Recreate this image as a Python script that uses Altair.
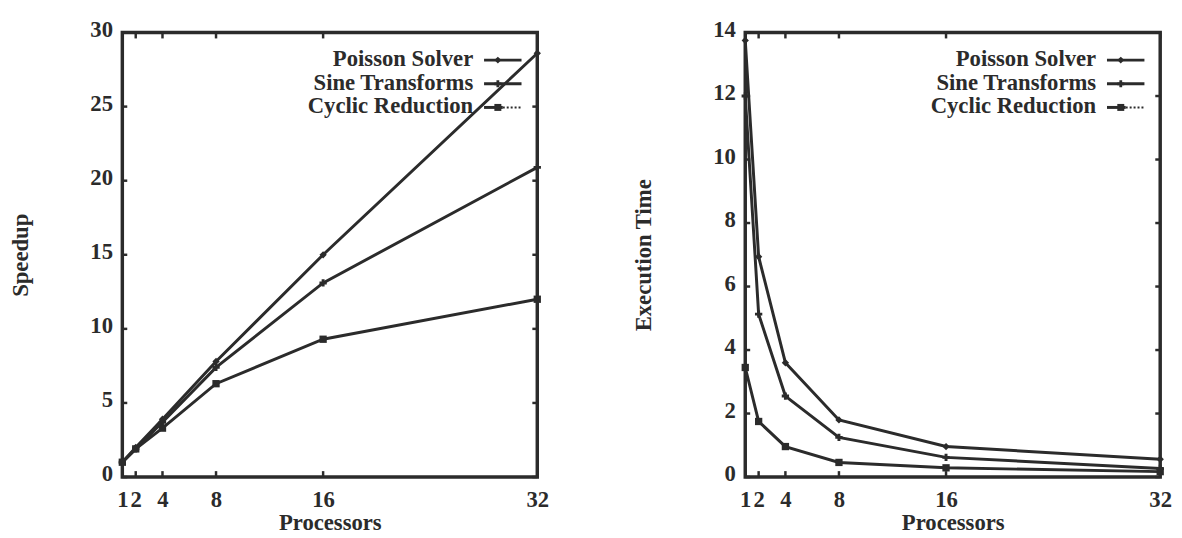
import altair as alt
import pandas as pd

processors = [1, 2, 4, 8, 16, 32]
series = ["Poisson Solver", "Sine Transforms", "Cyclic Reduction"]

speedup_poisson = [1.0, 2.0, 3.9, 7.8, 15.0, 28.6]
speedup_sine = [1.0, 1.9, 3.7, 7.4, 13.1, 20.9]
speedup_cyclic = [1.0, 1.9, 3.3, 6.3, 9.3, 12.0]

time_poisson = [13.75, 6.94, 3.6, 1.8, 0.96, 0.56]
time_sine = [12.0, 5.13, 2.55, 1.25, 0.62, 0.27]
time_cyclic = [3.45, 1.75, 0.96, 0.46, 0.29, 0.17]

speedup_ticks = [0, 5, 10, 15, 20, 25, 30]
time_ticks = [0, 2, 4, 6, 8, 10, 12, 14]

FONT = "Liberation Serif"
FS = 23
INK = "#2b2b2b"
W, H = 421, 451
shapes = ["diamond", "cross", "square"]


def panel(vals, ytitle, yticks, ymax, title_pad):
    rows = []
    for s, v in zip(series, vals):
        for p, y in zip(processors, v):
            rows.append({"processors": p, "value": y, "series": s})
    df = pd.DataFrame(rows)

    xscale = alt.Scale(domain=[1, 32], nice=False, zero=False)
    yscale = alt.Scale(domain=[0, ymax], nice=False, zero=True)
    x = alt.X("processors:Q", scale=xscale,
              axis=alt.Axis(values=processors, title="Processors",
                            labelOverlap=False, labelFlush=False,
                            labelPadding=12, titlePadding=0))
    y = alt.Y("value:Q", scale=yscale,
              axis=alt.Axis(values=yticks, title=ytitle, labelPadding=10,
                            labelOffset=-3, titlePadding=title_pad,
                            labelOverlap=False, labelFlush=False))

    lines = alt.Chart(df).mark_line(color=INK, strokeWidth=3).encode(
        x=x, y=y, detail="series:N")
    pts = alt.Chart(df).mark_point(filled=True, color=INK, opacity=1, size=55).encode(
        x=x, y=y,
        shape=alt.Shape("series:N", scale=alt.Scale(domain=series, range=shapes),
                        legend=None))

    # inward tick marks on all four sides
    xt = pd.DataFrame({"processors": processors})
    yt = pd.DataFrame({"value": yticks})
    tb = alt.Chart(xt).mark_rule(color=INK, strokeWidth=2.5).encode(
        x=x, y=alt.value(H), y2=alt.value(H - 6))
    tt = alt.Chart(xt).mark_rule(color=INK, strokeWidth=2.5).encode(
        x=x, y=alt.value(0), y2=alt.value(6))
    tl = alt.Chart(yt).mark_rule(color=INK, strokeWidth=2.5).encode(
        y=y, x=alt.value(0), x2=alt.value(5))
    tr = alt.Chart(yt).mark_rule(color=INK, strokeWidth=2.5).encode(
        y=y, x=alt.value(W), x2=alt.value(W - 5))

    layers = [lines, pts, tb, tt, tl, tr]

    # manual legend: label on the left, sample on the right
    row_y = [27, 51, 75]
    for i, s in enumerate(series):
        one = alt.Data(values=[{"label": s}])
        layers.append(alt.Chart(one).mark_text(
            align="right", baseline="middle", font=FONT, fontSize=FS,
            fontWeight="bold", color=INK).encode(
            x=alt.value(356), y=alt.value(row_y[i]), text="label:N"))
        if i < 2:
            layers.append(alt.Chart(one).mark_rule(color=INK, strokeWidth=3).encode(
                x=alt.value(367), x2=alt.value(405), y=alt.value(row_y[i] + 1)))
        else:
            layers.append(alt.Chart(one).mark_rule(color=INK, strokeWidth=3).encode(
                x=alt.value(367), x2=alt.value(386), y=alt.value(row_y[i] + 1)))
            layers.append(alt.Chart(one).mark_rule(
                color=INK, strokeWidth=2, strokeDash=[2, 2]).encode(
                x=alt.value(386), x2=alt.value(405), y=alt.value(row_y[i] + 1)))
        layers.append(alt.Chart(one).mark_point(
            shape=shapes[i], filled=True, color=INK, opacity=1, size=50).encode(
            x=alt.value(381), y=alt.value(row_y[i] + 1)))

    return alt.layer(*layers).properties(width=W, height=H)


left = panel([speedup_poisson, speedup_sine, speedup_cyclic], "Speedup",
             speedup_ticks, 30, 58)
right = panel([time_poisson, time_sine, time_cyclic], "Execution Time",
              time_ticks, 14, 58)

chart = alt.hconcat(left, right, spacing=81).properties(
    padding={"left": 0, "top": 5, "right": 0, "bottom": 0}
).configure_view(
    stroke=INK, strokeWidth=3.5
).configure_axis(
    domain=False, ticks=False, grid=False,
    labelFont=FONT, labelFontSize=FS, labelFontWeight="bold", labelColor=INK,
    titleFont=FONT, titleFontSize=FS, titleFontWeight="bold", titleColor=INK
)

chart.save("out.html", embed_options={"renderer": "svg", "actions": False})
